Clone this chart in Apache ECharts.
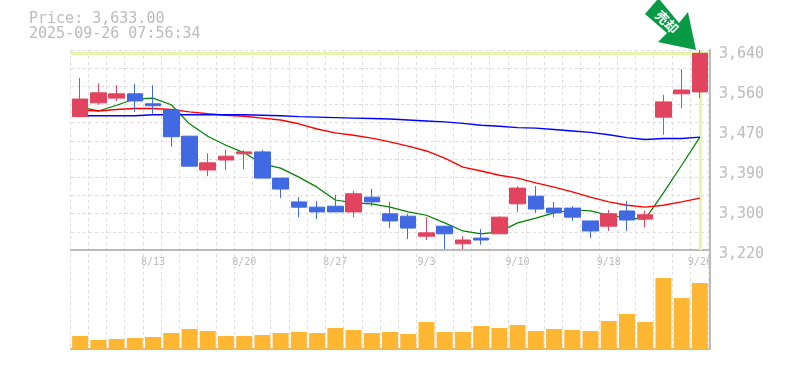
<!DOCTYPE html>
<html>
<head>
<meta charset="utf-8">
<style>html,body{margin:0;padding:0;background:#fff}#chart{width:785px;height:370px}</style>
<script src="https://cdn.jsdelivr.net/npm/echarts@6/dist/echarts.min.js"></script>
</head>
<body>
<div id="chart"></div>
<script>
var categories = ['8/6','8/7','8/8','8/12','8/13','8/14','8/15','8/18','8/19','8/20','8/21','8/22','8/25','8/26','8/27','8/28','8/29','9/1','9/2','9/3','9/4','9/5','9/8','9/9','9/10','9/11','9/12','9/16','9/17','9/18','9/19','9/22','9/24','9/25','9/26'];
// open, close, low, high
var candles = [
  [3500,3537,3500,3581],[3529,3550,3525,3570],[3539,3548,3533,3566],[3548,3533,3510,3569],[3527,3523,3506,3566],
  [3514,3458,3437,3514],[3459,3396,3396,3459],[3388,3403,3375,3423],[3409,3417,3388,3430],[3422,3426,3390,3430],
  [3426,3371,3371,3430],[3371,3348,3329,3371],[3321,3310,3289,3331],[3310,3300,3285,3323],[3312,3300,3300,3336],
  [3300,3338,3289,3344],[3331,3321,3312,3348],[3296,3281,3266,3321],[3291,3266,3243,3296],[3249,3256,3241,3289],
  [3270,3254,3222,3270],[3233,3241,3222,3249],[3245,3241,3231,3264],[3254,3289,3254,3291],[3317,3350,3300,3354],
  [3333,3306,3298,3354],[3308,3298,3289,3321],[3308,3289,3281,3312],[3281,3260,3245,3281],[3270,3296,3260,3304],
  [3302,3283,3260,3323],[3285,3294,3268,3302],[3499,3531,3462,3546],[3548,3556,3518,3600],[3552,3633,3539,3640]
];
var maShort = [3520,3512,3524,3537,3539,3525,3485,3459,3440,3424,3401,3392,3373,3352,3325,3319,3317,3310,3300,3293,3277,3260,3254,3258,3277,3287,3298,3304,3302,3293,3287,3285,3340,3398,3457];
var maMid = [3514,3512,3515,3517,3517,3515,3510,3506,3503,3501,3497,3493,3485,3474,3466,3461,3455,3447,3438,3428,3413,3394,3386,3377,3371,3361,3352,3342,3331,3321,3314,3310,3314,3321,3329];
var maLong = [3502,3502,3502,3502,3504,3504,3504,3504,3504,3504,3503,3502,3500,3499,3498,3497,3496,3495,3493,3491,3489,3486,3482,3480,3477,3476,3473,3470,3467,3462,3456,3452,3454,3454,3457];
var volumes = [13,9,10,11,12,16,20,18,13,13,14,16,17,16,21,19,16,17,15,27,17,17,23,21,24,18,20,19,18,28,35,27,71,51,66];
var priceTicks = ['3,220','3,300','3,390','3,470','3,560','3,640'];
var lastPrice = 3633;

var textColor = '#bbbbbb';
var monoFont = '"DejaVu Sans Mono", monospace';
var dash = {color: '#dddddd', type: [3, 3], width: 1};

var mychart = echarts.init(document.getElementById('chart'), null, {renderer: 'canvas'});
mychart.setOption({
  animation: false,
  backgroundColor: '#ffffff',
  title: {
    text: 'Price: 3,633.00\n2025-09-26 07:56:34',
    left: 29, top: 12, padding: 0,
    textStyle: {fontFamily: monoFont, fontSize: 15, fontWeight: 'normal', color: textColor, lineHeight: 15}
  },
  grid: [
    {left: 71, width: 638, top: 50, height: 200},
    {left: 71, width: 638, top: 250, height: 99},
    {left: 70, width: 638.4, top: 50, height: 299}   // only the vertical dashes
  ],
  xAxis: [
    {
      type: 'category', gridIndex: 0, data: categories, boundaryGap: true,
      axisLine: {show: true, lineStyle: {color: textColor, width: 2}},
      axisTick: {show: false},
      splitLine: {show: false},
      axisLabel: {
        interval: function (i) { return (i + 1) % 5 === 0; },
        hideOverlap: false,
        color: textColor, fontFamily: monoFont, fontSize: 10, margin: 7
      }
    },
    {
      type: 'category', gridIndex: 1, data: categories, boundaryGap: true,
      axisLine: {show: true, lineStyle: {color: textColor, width: 2}},
      axisTick: {show: false}, axisLabel: {show: false}, splitLine: {show: false}
    },
    {
      type: 'category', gridIndex: 2, data: categories, boundaryGap: true, z: 0,
      axisLine: {show: false}, axisTick: {show: false}, axisLabel: {show: false},
      splitLine: {show: true, interval: 0, lineStyle: dash}
    }
  ],
  yAxis: [
    {
      type: 'value', gridIndex: 0, min: 3220, max: 3640, position: 'right',
      axisLine: {show: false}, axisTick: {show: false}, axisLabel: {show: false}, splitLine: {show: false}
    },
    {
      // tick labels, five equal steps
      type: 'value', gridIndex: 0, min: 0, max: 5, interval: 1, position: 'right', offset: 1,
      axisLine: {show: true, onZero: false, lineStyle: {color: textColor, width: 2}},
      axisTick: {show: false}, splitLine: {show: false},
      axisLabel: {
        formatter: function (v) { return priceTicks[v]; },
        color: textColor, fontFamily: monoFont, fontSize: 15, margin: 9,
        verticalAlign: 'top', lineHeight: 8
      }
    },
    {
      // dashed grid, eleven equal steps
      type: 'value', gridIndex: 0, min: 0, max: 11, interval: 1, position: 'left',
      axisLine: {show: false}, axisTick: {show: false}, axisLabel: {show: false},
      splitLine: {show: true, lineStyle: dash}
    },
    {
      type: 'value', gridIndex: 1, min: 0, max: 99, position: 'right', offset: 1,
      axisLine: {show: true, onZero: false, lineStyle: {color: textColor, width: 2}},
      axisTick: {show: false}, axisLabel: {show: false}, splitLine: {show: false}
    },
    {
      type: 'value', gridIndex: 2, min: 0, max: 1,
      axisLine: {show: false}, axisTick: {show: false}, axisLabel: {show: false}, splitLine: {show: false}
    }
  ],
  series: [
    {
      name: 'short', type: 'line', data: maShort, xAxisIndex: 0, yAxisIndex: 0, z: 3,
      showSymbol: false, silent: true, lineStyle: {color: '#008000', width: 1.2},
      markLine: {
        z: 1, silent: true, symbol: 'none', label: {show: false},
        lineStyle: {color: '#e6f5a9', width: 3, type: 'solid'},
        data: [{yAxis: lastPrice}, {xAxis: categories.length - 1}]
      }
    },
    {name: 'mid', type: 'line', data: maMid, xAxisIndex: 0, yAxisIndex: 0, z: 3, showSymbol: false, silent: true, lineStyle: {color: '#ff0000', width: 1.4}},
    {name: 'long', type: 'line', data: maLong, xAxisIndex: 0, yAxisIndex: 0, z: 3, showSymbol: false, silent: true, lineStyle: {color: '#0000ff', width: 1.4}},
    {
      name: 'price', type: 'candlestick', data: candles, xAxisIndex: 0, yAxisIndex: 0, z: 4, barWidth: 16, silent: true,
      itemStyle: {color: '#e2435f', color0: '#4169e1', borderColor: '#e2435f', borderColor0: '#4169e1', borderWidth: 1}
    },
    {
      name: 'volume', type: 'bar', data: volumes, xAxisIndex: 1, yAxisIndex: 3, barWidth: 16, silent: true,
      itemStyle: {color: '#ffb733'}
    },
    {name: 'backdrop', type: 'line', data: [], xAxisIndex: 2, yAxisIndex: 4}
  ],
  graphic: [
    {
      type: 'polygon', z: 20, silent: true,
      shape: {points: [[645,14],[657,0],[660,0],[679,23],[688,12],[696,50],[658,42],[667,33]]},
      style: {fill: '#089a44'}
    },
    {
      type: 'text', z: 21, silent: true, x: 667, y: 22, rotation: -Math.PI / 4, originX: 0, originY: 0,
      style: {text: '売却', fill: '#ffffff', font: 'bold 13px "Noto Sans CJK JP"', align: 'center', verticalAlign: 'middle'}
    }
  ]
});
</script>
</body>
</html>
